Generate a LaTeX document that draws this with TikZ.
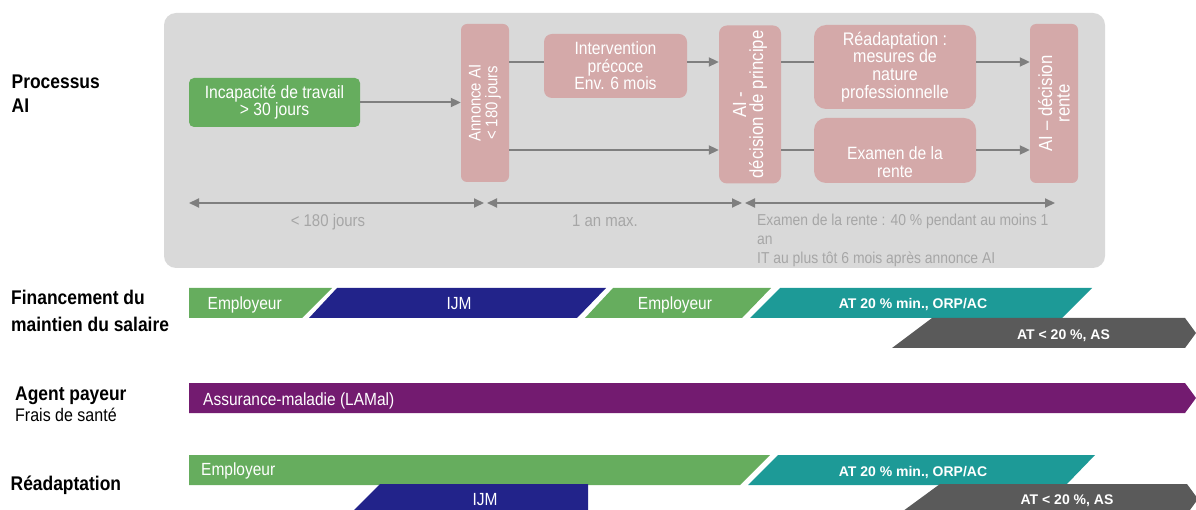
\documentclass[tikz,border=0pt]{standalone}
\usepackage{fontspec}
\setmainfont{Liberation Sans}[FakeStretch=0.88]
\newfontfamily\widesans{Liberation Sans}
\usetikzlibrary{arrows.meta}

\definecolor{panel}{HTML}{D9D9D9}
\definecolor{rose}{HTML}{D4A9A9}
\definecolor{leaf}{HTML}{66AD5E}
\definecolor{navy}{HTML}{22238A}
\definecolor{tealc}{HTML}{1D9A97}
\definecolor{slate}{HTML}{5A5A5A}
\definecolor{plum}{HTML}{731B70}
\definecolor{wire}{HTML}{7F7F7F}
\definecolor{note}{HTML}{A6A6A6}

\begin{document}
\begin{tikzpicture}[x=1pt,y=-1pt,
  boxtxt/.style={text=white, align=center, font=\fontsize{17.8}{17.5}\selectfont},
  pbox/.style={boxtxt, fill=rose, inner sep=1pt},
  gbox/.style={boxtxt, fill=leaf, inner sep=1pt, rounded corners=5pt},
  arr/.style={draw=wire, line width=2pt, -{Triangle[length=10pt,width=9pt]}},
  dim/.style={draw=wire, line width=2pt, {Triangle[length=10pt,width=9pt]}-{Triangle[length=10pt,width=9pt]}},
  ln/.style={draw=wire, line width=2pt},
  notetxt/.style={text=note, anchor=base, inner sep=0pt},
  rowlbl/.style={anchor=base west, inner sep=0pt, font=\fontsize{19.8}{23}\selectfont\bfseries},
  bartxt/.style={text=white, inner sep=0pt, font=\fontsize{17.6}{20}\selectfont},
  atxt/.style={text=white, inner sep=0pt, anchor=base, font=\widesans\bfseries\fontsize{14}{16}\selectfont}]

\useasboundingbox (0,0) rectangle (1196,510);
\clip (0,0) rectangle (1196,510);

% grey panel of the AI process
\fill[panel, rounded corners=12pt] (164,13) rectangle (1105,268);

% levels of the two horizontal flows
\coordinate (yu) at (0,62);
\coordinate (yl) at (0,150);

% process boxes (rotated boxes: north = left side, south = right side)
\node[gbox, minimum width=171pt, minimum height=49pt] (inc) at (274.5,102.5)
  {Incapacité de travail\\> 30 jours};
\node[pbox, rounded corners=6pt, rotate=90, minimum width=158pt, minimum height=48pt,
  font=\fontsize{16.9}{16.7}\selectfont] (annonce) at (485,103)
  {Annonce AI\\< 180 jours};
\node[pbox, rounded corners=8pt, minimum width=143pt, minimum height=64pt] (interv) at (615.5,66)
  {Intervention\\précoce\\Env. 6 mois};
\node[pbox, rounded corners=8pt, rotate=90, minimum width=158pt, minimum height=62pt,
  font=\fontsize{19}{17}\selectfont] (principe) at (750,104.5)
  {AI -\\décision de principe};
\node[pbox, rounded corners=12pt, minimum width=162pt, minimum height=84pt,
  font=\fontsize{18.2}{17.7}\selectfont] (readapt) at (895,67)
  {Réadaptation :\\mesures de\\nature\\professionnelle};
\node[pbox, rounded corners=12pt, minimum width=162pt, minimum height=65pt] (examen) at (895,150.5) {};
\node[boxtxt] (examentxt) at (895,162) {Examen de la\\rente};
\node[pbox, rounded corners=6pt, rotate=90, minimum width=159pt, minimum height=48pt,
  font=\fontsize{19}{17.5}\selectfont] (rente) at (1054,103.5)
  {AI \textendash{} décision\\rente};

% connectors
\draw[arr] (inc.east) -- (inc.east -| annonce.north);
\draw[ln] (annonce.south |- yu) -- (interv.west |- yu);
\draw[arr] (interv.east |- yu) -- (principe.north |- yu);
\draw[arr] (annonce.south |- yl) -- (principe.north |- yl);
\draw[ln] (principe.south |- yu) -- (readapt.west |- yu);
\draw[ln] (principe.south |- yl) -- (examen.west |- yl);
\draw[arr] (readapt.east |- yu) -- (rente.north |- yu);
\draw[arr] (examen.east |- yl) -- (rente.north |- yl);

% time spans
\coordinate (d1a) at (189,203);
\coordinate (d1b) at (484,203);
\coordinate (d2a) at (487,203);
\coordinate (d2b) at (742,203);
\coordinate (d3a) at (745,203);
\coordinate (d3b) at (1055,203);
\draw[dim] (d1a) -- (d1b);
\draw[dim] (d2a) -- (d2b);
\draw[dim] (d3a) -- (d3b);

\node[notetxt, font=\fontsize{17}{19}\selectfont] (span1) at (328,227) {< 180 jours};
\node[notetxt, font=\fontsize{17}{19}\selectfont] (span2) at (605,227) {1 an max.};
\node[notetxt, anchor=base west, font=\fontsize{15.8}{19}\selectfont] (span3a) at (757,226)
  {Examen de la rente : 40 \% pendant au moins 1};
\node[notetxt, anchor=base west, font=\fontsize{15.8}{19}\selectfont] (span3b) at (757,244.7) {an};
\node[notetxt, anchor=base west, font=\fontsize{15.8}{19}\selectfont] (span3c) at (757,263.3)
  {IT au plus tôt 6 mois après annonce AI};

% row titles
\node[rowlbl] (t1a) at (11.5,89) {Processus};
\node[rowlbl] (t1b) at (11.5,113) {AI};
\node[rowlbl] (t2a) at (11,305) {Financement du};
\node[rowlbl] (t2b) at (11,331.7) {maintien du salaire};
\node[rowlbl] (t3a) at (15,400.7) {Agent payeur};
\node[anchor=base west, inner sep=0pt, font=\fontsize{18.2}{20}\selectfont] (t3b) at (15,421.7) {Frais de santé};
\node[rowlbl] (t4) at (10.5,490) {Réadaptation};

% salary continuation
\fill[leaf]  (189,288) -- (332,288) -- (302,318) -- (189,318) -- cycle;
\fill[navy]  (337,288) -- (606,288) -- (577,318) -- (309,318) -- cycle;
\fill[leaf]  (613,288) -- (771,288) -- (742,318) -- (585,318) -- cycle;
\fill[tealc] (780,288) -- (1092,288) -- (1062,318) -- (750,318) -- cycle;
\fill[slate] (932,318) -- (1185,318) -- (1196,333) -- (1185,348) -- (892,348) -- cycle;
\node[bartxt, anchor=base west] (r1a) at (207.5,310) {Employeur};
\node[bartxt, anchor=base] (r1b) at (459,310) {IJM};
\node[bartxt, anchor=base] (r1c) at (675,310) {Employeur};
\node[atxt] (r1d) at (913,309) {AT 20 \% min., ORP/AC};
\node[atxt] (r1e) at (1063.5,340) {AT < 20 \%, AS};

% health costs
\fill[plum] (189,383) -- (1185,383) -- (1196,398) -- (1185,413) -- (189,413) -- cycle;
\node[bartxt, anchor=base west] (r2) at (203,405) {Assurance-maladie (LAMal)};

% rehabilitation
\fill[leaf]  (189,455) -- (770,455) -- (740,485) -- (189,485) -- cycle;
\fill[tealc] (778,455) -- (1095,455) -- (1066,485) -- (748,485) -- cycle;
\fill[navy]  (380,484) -- (588,484) -- (588,514) -- (350,514) -- cycle;
\fill[slate] (940,484) -- (1187,484) -- (1198,499) -- (1187,514) -- (899,514) -- cycle;
\node[bartxt, anchor=base west] (r3a) at (201,475.5) {Employeur};
\node[atxt] (r3b) at (913,476) {AT 20 \% min., ORP/AC};
\node[bartxt, anchor=base] (r3c) at (485,505.5) {IJM};
\node[atxt] (r3d) at (1067,504.5) {AT < 20 \%, AS};
\end{tikzpicture}
\end{document}
